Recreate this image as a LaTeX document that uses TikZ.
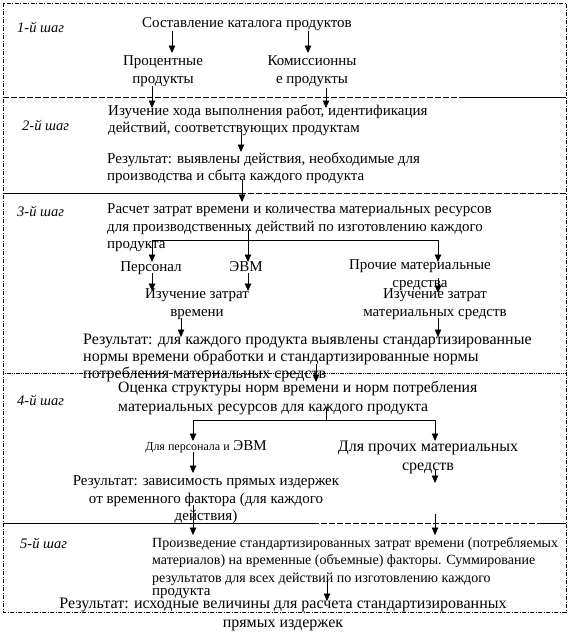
\documentclass[tikz,border=0pt]{standalone}
\usepackage{fontspec}
\setmainfont{Liberation Serif}
\usetikzlibrary{arrows.meta}
\begin{document}
\begin{tikzpicture}[x=1pt,y=-1pt,
  txt/.style={inner sep=0pt,font=\fontsize{15}{17.5}\selectfont},
  big/.style={inner sep=0pt,font=\fontsize{16}{17}\selectfont},
  small/.style={inner sep=0pt,font=\fontsize{14}{17.5}\selectfont},
  lbl/.style={inner sep=0pt,anchor=west,font=\fontsize{14.5}{17}\selectfont\itshape},
  arr/.style={line width=0.8pt,-{Triangle[width=6.5pt,length=7.5pt]}},
  ln/.style={line width=0.8pt},
  frame/.style={line width=0.8pt,dash pattern=on 4pt off 1.5pt on 1pt off 1.5pt},
  sep/.style={line width=0.8pt,dash pattern=on 6pt off 2pt},
  dots/.style={line width=1pt,dash pattern=on 1.2pt off 0.6pt}]
\useasboundingbox (0,0) rectangle (578,638);
% frame
\draw[frame] (3,3) rectangle (566,612);
\draw[sep] (3,97) -- (460,97);
\draw[ln] (460,97) -- (566,97);
\draw[ln] (3,193) -- (240,193);
\draw[sep] (240,193) -- (566,193);
\draw[dots] (3,373) -- (566,373);
\draw[ln] (3,523) -- (313,523);
\draw[sep] (313,523) -- (540,523);
\draw[ln] (540,523) -- (566,523);
% step labels
\node[lbl] (s1) at (17,27) {1-й шаг};
\node[lbl] (s2) at (22,125) {2-й шаг};
\node[lbl] (s3) at (17,211) {3-й шаг};
\node[lbl] (s4) at (17,400) {4-й шаг};
\node[lbl] (s5) at (20,543) {5-й шаг};
% step 1
\node[txt] (cat) at (247,24) {Составление каталога продуктов};
\node[txt,align=center] (pr) at (163,71) {Процентные\\продукты};
\node[txt,align=center] (ko) at (312,71) {Комиссионны\\е продукты};
% step 2
\node[txt,align=left,anchor=west] (izu) at (108,120) {Изучение хода выполнения работ, идентификация\\действий, соответствующих продуктам};
\node[txt,align=left,anchor=west] (res2) at (107,168) {Результат: выявлены действия, необходимые для\\производства и сбыта каждого продукта};
% step 3
\node[txt,align=left,anchor=west] (rasch) at (107,228) {Расчет затрат времени и количества материальных ресурсов\\для производственных действий по изготовлению каждого\\продукта};
\node[txt] (pers) at (151,268) {Персонал};
\node[txt] (evm) at (246,267) {ЭВМ};
\node[txt,align=center] (proch) at (420,275) {Прочие материальные\\средства};
\node[txt,align=center] (iz1) at (197,304) {Изучение затрат\\времени};
\node[txt,align=center] (iz2) at (435,304) {Изучение затрат\\материальных средств};
\node[big,align=left,anchor=west] (res3) at (83,358) {Результат: для каждого продукта выявлены стандартизированные\\нормы времени обработки и стандартизированные нормы\\потребления материальных средств};
% step 4
\node[big,align=left,anchor=west,font=\fontsize{15.7}{19}\selectfont] (ocen) at (118,398) {Оценка структуры норм времени и норм потребления\\материальных ресурсов для каждого продукта};
\node[txt] (dlp) at (206,447) {{\fontsize{12}{14}\selectfont Для персонала и} ЭВМ};
\node[big,align=center,font=\fontsize{16}{19}\selectfont] (dlpr) at (428,457) {Для прочих материальных\\средств};
\node[txt,align=center] (res4) at (206,500) {Результат: зависимость прямых издержек\\от временного фактора (для каждого\\действия)};
% step 5
\node[small,align=left,anchor=west] (proizv) at (152,561) {Произведение стандартизированных затрат времени (потребляемых\\материалов) на временные (объемные) факторы. Суммирование\\результатов для всех действий по изготовлению каждого};
\node[txt,anchor=west] (prod5) at (152,594) {продукта};
\node[big,align=center,font=\fontsize{16}{19}\selectfont] (res5) at (283,614) {Результат: исходные величины для расчета стандартизированных\\прямых издержек};
% connector coordinates
\coordinate (a1) at (172,31); \coordinate (b1) at (172,53);
\coordinate (a2) at (308,31); \coordinate (b2) at (308,53);
\coordinate (a3) at (152,86); \coordinate (b3) at (152,108);
\coordinate (a4) at (326,88); \coordinate (b4) at (326,108);
\coordinate (a5) at (241,131); \coordinate (b5) at (241,152);
\coordinate (a6) at (242,180); \coordinate (b6) at (242,202);
\coordinate (h1) at (152,240); \coordinate (h2) at (438,240);
\coordinate (a7) at (248,230);
\coordinate (b7a) at (152,262); \coordinate (b7b) at (248,262); \coordinate (b7c) at (438,262);
\coordinate (a8) at (152,273); \coordinate (b8) at (152,291);
\coordinate (a9) at (248,273); \coordinate (b9) at (248,291);
\coordinate (a10) at (438,278); \coordinate (b10) at (438,293);
\coordinate (a11) at (181,318); \coordinate (b11) at (181,337);
\coordinate (a12) at (438,318); \coordinate (b12) at (438,337);
\coordinate (a13) at (316,364); \coordinate (b13) at (316,382);
\coordinate (a14) at (326,408); \coordinate (h3) at (193,420); \coordinate (h4) at (435,420);
\coordinate (b14a) at (193,441); \coordinate (b14b) at (435,441);
\coordinate (a15) at (193,452); \coordinate (b15) at (193,473);
\coordinate (a16) at (435,470); \coordinate (b16) at (435,483);
\coordinate (a17) at (193,505); \coordinate (b17) at (193,535);
\coordinate (a18) at (435,514); \coordinate (b18) at (435,535);
\coordinate (a19) at (327,582); \coordinate (b19) at (327,601);
% connectors
\draw[arr] (a1) -- (b1);
\draw[arr] (a2) -- (b2);
\draw[arr] (a3) -- (b3);
\draw[arr] (a4) -- (b4);
\draw[arr] (a5) -- (b5);
\draw[arr] (a6) -- (b6);
\draw[ln] (h1) -- (h2);
\draw[arr] (h1) -- (b7a);
\draw[arr] (a7) -- (b7b);
\draw[arr] (h2) -- (b7c);
\draw[arr] (a8) -- (b8);
\draw[arr] (a9) -- (b9);
\draw[arr] (a10) -- (b10);
\draw[arr] (a11) -- (b11);
\draw[arr] (a12) -- (b12);
\draw[arr] (a13) -- (b13);
\draw[ln] (a14) -- (a14 |- h3);
\draw[ln] (h3) -- (h4);
\draw[arr] (h3) -- (b14a);
\draw[arr] (h4) -- (b14b);
\draw[arr] (a15) -- (b15);
\draw[arr] (a16) -- (b16);
\draw[arr] (a17) -- (b17);
\draw[arr] (a18) -- (b18);
\draw[arr] (a19) -- (b19);
\end{tikzpicture}
\end{document}
